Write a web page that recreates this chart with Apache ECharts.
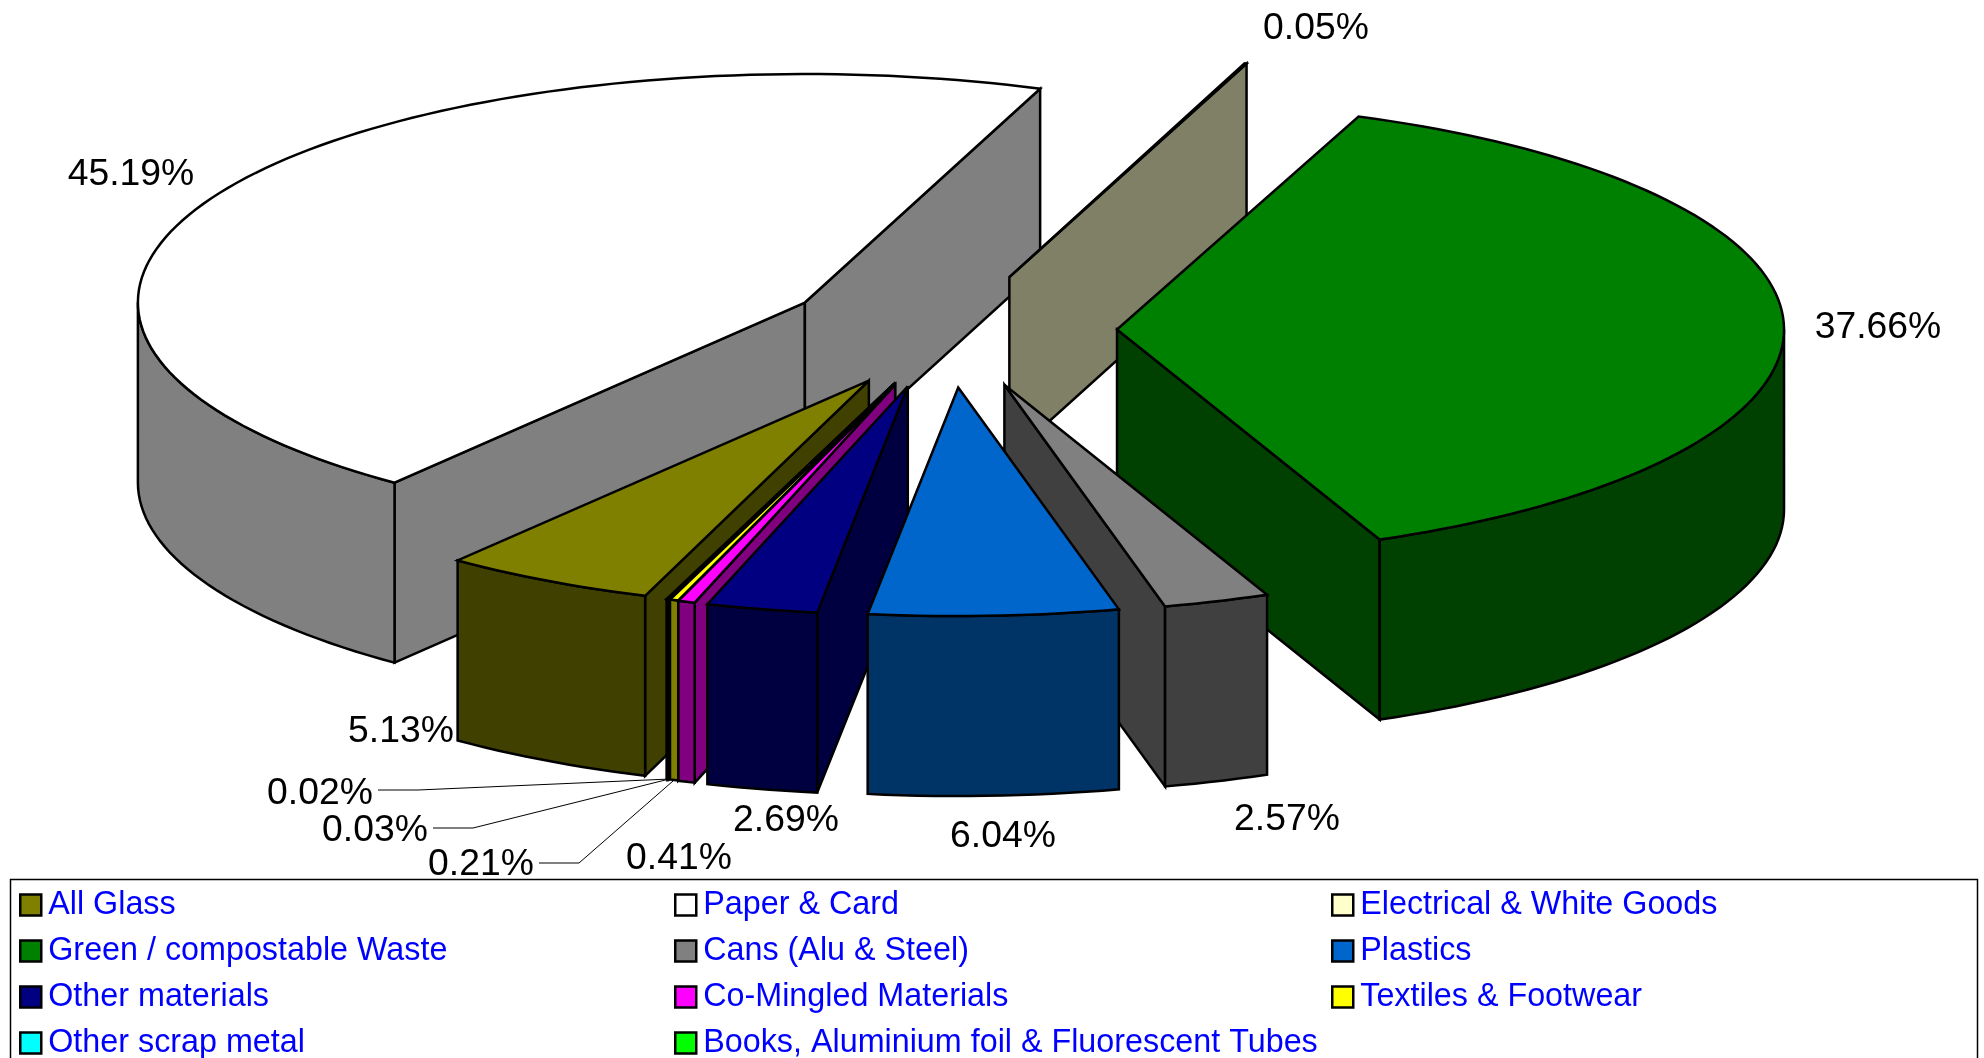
<!DOCTYPE html>
<html>
<head>
<meta charset="utf-8">
<style>html,body{margin:0;padding:0;background:#fff;overflow:hidden}#c{width:1984px;height:1058px}</style>
<script src="https://cdn.jsdelivr.net/npm/echarts@6/dist/echarts.min.js"></script>
</head>
<body>
<div id="c"></div>
<script>
// ---- data, clockwise from the start of "All Glass"
const categories = ['All Glass','Paper & Card','Electrical & White Goods','Green / compostable Waste','Cans (Alu & Steel)','Plastics','Other materials','Co-Mingled Materials','Textiles & Footwear','Other scrap metal','Books, Aluminium foil & Fluorescent Tubes'];
const values = [5.13,45.19,0.05,37.66,2.57,6.04,2.69,0.41,0.21,0.03,0.02];
const colors = ['#808000','#FFFFFF','#FFFFCC','#008000','#808080','#0066CC','#000080','#FF00FF','#FFFF00','#00FFFF','#00FF00'];
// ---- presentation
const paintOrder = ['Paper & Card','Electrical & White Goods','Green / compostable Waste','All Glass','Books, Aluminium foil & Fluorescent Tubes','Other scrap metal','Textiles & Footwear','Co-Mingled Materials','Other materials','Cans (Alu & Steel)','Plastics'];
const labelAt = [[401,732],[131,175],[1316,29],[1878,328],[1287,820],[1003,837],[786,821],[679,859],[481,865],[375,831],[320,794]];
const leaders = {8:[[539,863],[579,863]],9:[[433,828],[473,828]],10:[[378,790],[418,790]]};
const legendCols = [[0,3,6,9],[1,4,7,10],[2,5,8]];
const legendLeft = [19,674,1331];
const shiftX = [-1,0,0,0,1,-1,-6,-3,0,0,0];
const spin = [-0.3,-0.4,-0.4,0,0,0,0,0,0,0,0];
const pie = {cx:950.3,cy:330.5,rx:667,ry:228.5,depth:180,explode:0.25,start:199.9};
const FONT = '"Liberation Sans", Arial, sans-serif';

const rad = d => d*Math.PI/180;
function half(hex){
  const n = parseInt(hex.slice(1),16);
  const h = v => Math.round(v/2);
  return `rgb(${h(n>>16&255)},${h(n>>8&255)},${h(n&255)})`;
}
const total = values.reduce((a,b)=>a+b,0);
let acc = pie.start;
const spans = values.map((v,i)=>{const s=acc; acc+=v/total*360; return [s+spin[i],acc+spin[i]];});

function drawSlice(i){
  const [a0,a1] = spans[i];
  const mid = rad((a0+a1)/2);
  const ax = pie.cx + pie.explode*pie.rx*Math.sin(mid) + shiftX[i];
  const ay = pie.cy - pie.explode*pie.ry*Math.cos(mid);
  const P = (deg,dz=0)=>[ax+pie.rx*Math.sin(rad(deg)), ay-pie.ry*Math.cos(rad(deg))+dz];
  const arc = (from,to,dz=0)=>{
    const n = Math.max(2,Math.ceil(Math.abs(to-from)/1.5)), pts=[];
    for(let k=0;k<=n;k++) pts.push(P(from+(to-from)*k/n,dz));
    return pts;
  };
  const fill = colors[i], side = half(fill);
  const style = c=>({fill:c,stroke:'#000',lineWidth:2.5,lineJoin:'miter',miterLimit:4});
  const poly = (pts,c)=>({type:'polygon',shape:{points:pts},style:style(c),silent:true});
  const kids = [];
  // radial walls that face the viewer
  const wall = deg=>{const p=P(deg),q=P(deg,pie.depth);return poly([[ax,ay],p,q,[ax,ay+pie.depth]],side);};
  if(-Math.sin(rad(a0))>0) kids.push(wall(a0));
  if(Math.sin(rad(a1))>0) kids.push(wall(a1));
  // outer curved wall, front half only (90..270 clockwise from 12 o'clock, also +360)
  for(const [lo,hi] of [[90,270],[450,630]]){
    const f=Math.max(a0,lo), t=Math.min(a1,hi);
    if(t>f) kids.push(poly(arc(f,t).concat(arc(t,f,pie.depth)),side));
  }
  // top face
  kids.push(poly([[ax,ay]].concat(arc(a0,a1)),fill));
  return {kids,P,a0,a1};
}

const series = categories.map((name,i)=>({
  name, type:'custom', coordinateSystem:'none', silent:true,
  z:2+paintOrder.indexOf(name), clip:false,
  itemStyle:{color:colors[i]},
  data:[values[i]],
  renderItem(){
    const s = drawSlice(i);
    const children = s.kids.slice();
    if(leaders[i]){
      const m=(s.a0+s.a1)/2, end=s.P(m,pie.depth);
      children.push({type:'polyline',shape:{points:leaders[i].concat([end])},style:{fill:null,stroke:'#000',lineWidth:1},silent:true});
    }
    return {type:'group',children};
  }
}));
// percentage labels, always on top of the slices
series.push({
  type:'custom', coordinateSystem:'none', silent:true, z:30,
  data:values,
  renderItem(params){
    const i=params.dataIndex;
    return {type:'text',style:{text:values[i].toFixed(2)+'%',x:labelAt[i][0],y:labelAt[i][1],
      align:'center',verticalAlign:'middle',font:'37.3px '+FONT,fill:'#000'},silent:true};
  }
});

const legends = legendCols.map((col,c)=>({
  orient:'vertical', left:legendLeft[c], top:889, padding:0, height:400,
  itemWidth:21, itemHeight:21, itemGap:14, selectedMode:false,
  icon:'rect', data:col.map(i=>categories[i]),
  itemStyle:{borderColor:'#000',borderWidth:2.5},
  textStyle:{color:'#0000FF',fontFamily:'Liberation Sans',fontSize:32.3,lineHeight:29,padding:[2,0,0,2]}
}));

const chart = echarts.init(document.getElementById('c'),null,{renderer:'canvas'});
chart.setOption({
  animation:false, backgroundColor:'#fff',
  legend:legends,
  graphic:[{type:'rect',z:0,silent:true,shape:{x:10.5,y:879.5,width:1967,height:200},style:{fill:'#fff',stroke:'#000',lineWidth:1.5}}],
  series
});
</script>
</body>
</html>
